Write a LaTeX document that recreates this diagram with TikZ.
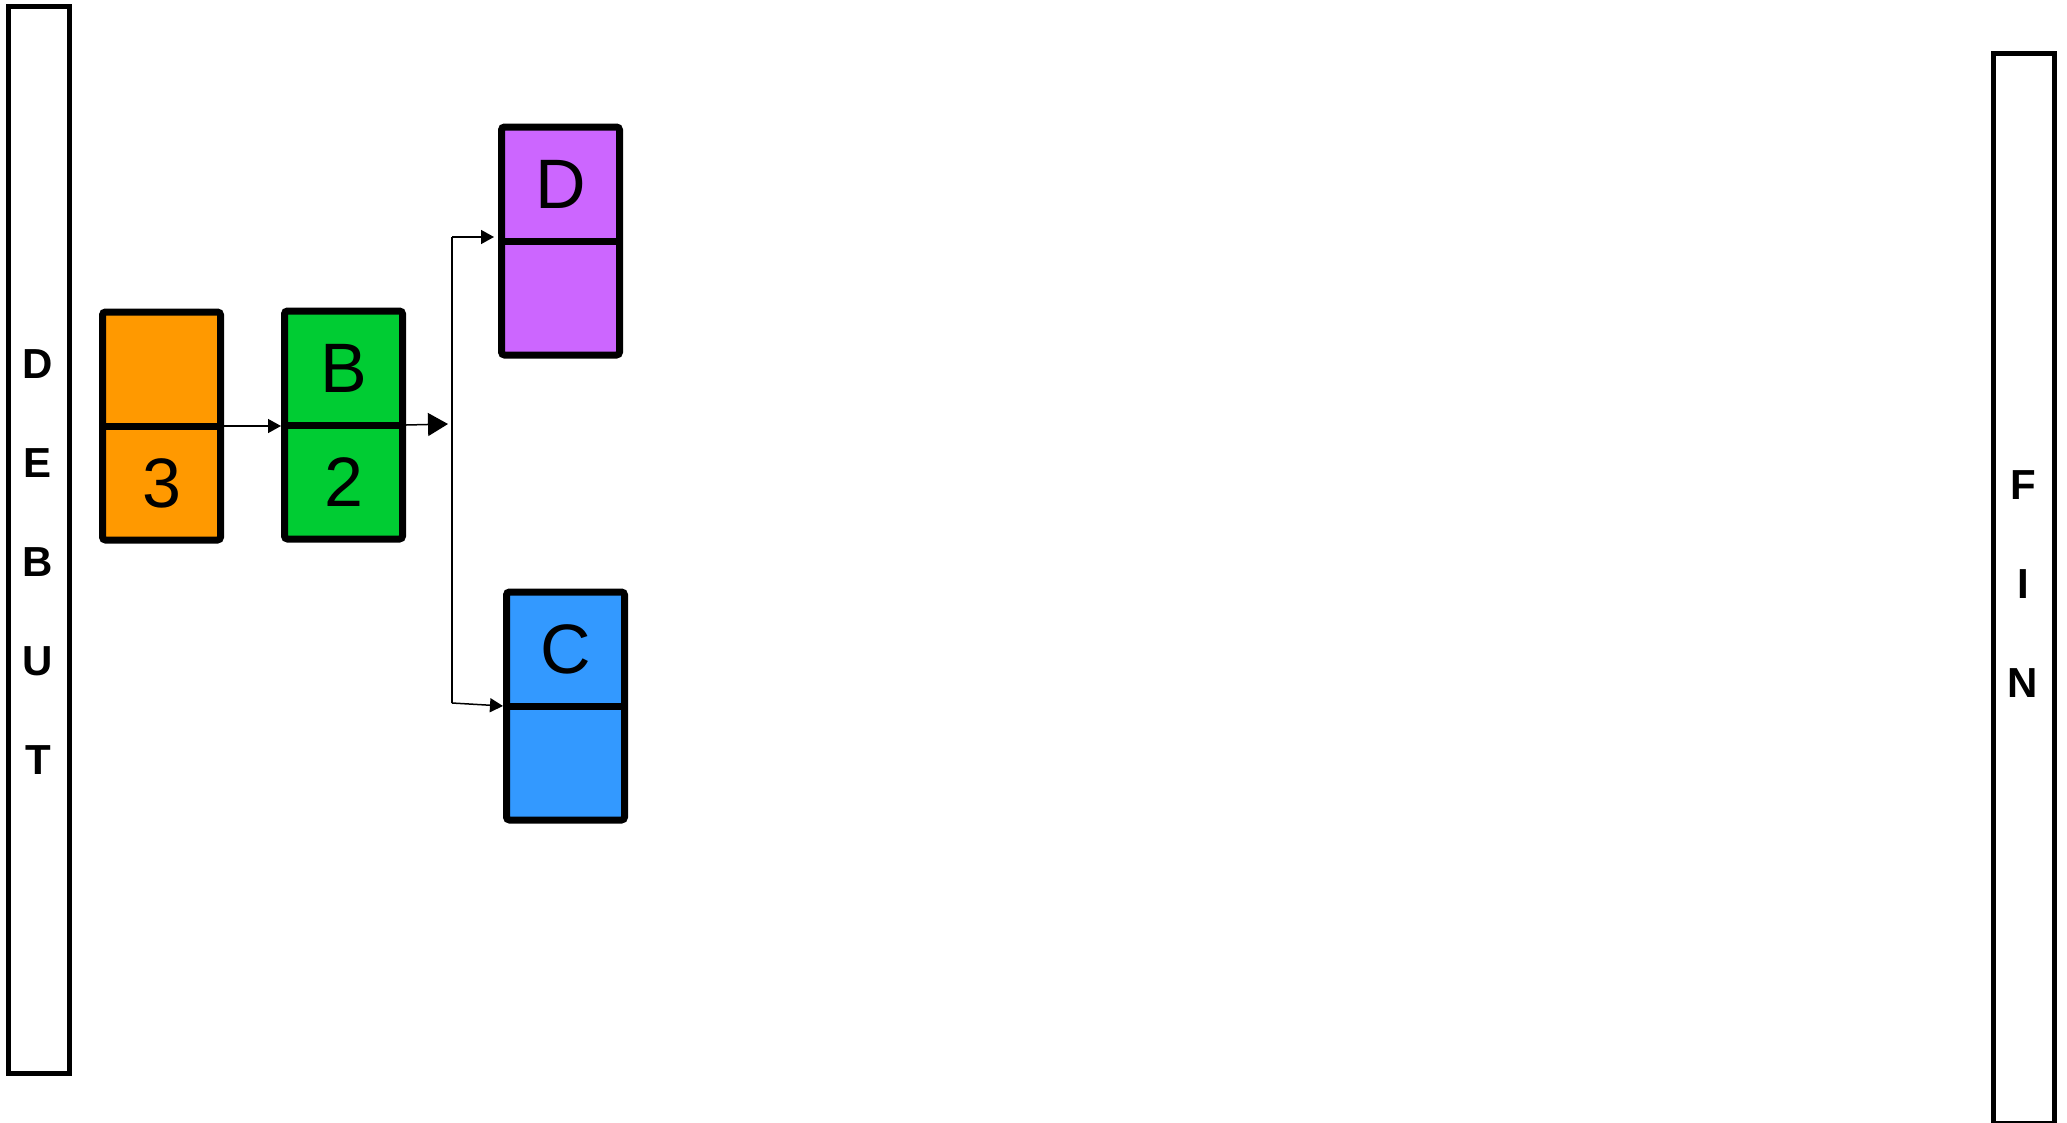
\documentclass[tikz,border=0pt]{standalone}
\usepackage{fontspec}
\setmainfont{Liberation Sans}
\usetikzlibrary{arrows.meta,calc}
\definecolor{corange}{HTML}{FF9900}
\definecolor{cgreen}{HTML}{00CC33}
\definecolor{cpurple}{HTML}{CC66FF}
\definecolor{cblue}{HTML}{3399FF}
\begin{document}
\begin{tikzpicture}[x=1pt,y=-1pt,
  bar/.style={draw=black,line width=5pt,fill=white,minimum width=61pt,inner sep=0pt},
  cell/.style={draw=black,line width=7pt,rounded corners=3pt,minimum width=118pt,minimum height=228pt,inner sep=0pt},
  lbl/.style={font=\fontsize{70}{70}\selectfont,inner sep=0pt},
  barlbl/.style={font=\fontsize{42}{99}\selectfont\bfseries,align=center,inner sep=0pt},
  conn/.style={line width=1.5pt},
  tipS/.style={-{Triangle[length=13pt,width=14pt]}},
  tipL/.style={-{Triangle[length=20pt,width=23pt]}}]
\useasboundingbox (0,0) rectangle (2067,1122);
% bars
\node[bar,minimum height=1067pt] (debut) at (39,540) {};
\node[barlbl] (debuttxt) at (38,562) {D\\E\\B\\U\\T};
\node[bar,minimum height=1070pt] (fin) at (2023.5,588.5) {};
\node[barlbl] (fintxt) at (2023,584) {F\\I\\N};
% boxes
\node[cell,fill=corange] (A) at (161.5,426) {};
\node[cell,fill=cgreen] (B) at (343.5,425) {};
\node[cell,fill=cpurple] (D) at (560.5,241) {};
\node[cell,fill=cblue] (C) at (565.5,706) {};
\foreach \n in {A,B,D,C}{\draw[line width=7pt] (\n.west) -- (\n.east);}
% labels
\node[lbl] (Alow) at ($(A.center)+(0,57)$) {3};
\node[lbl] (Bup) at ($(B.center)+(0,-57)$) {B};
\node[lbl] (Blow) at ($(B.center)+(0,57)$) {2};
\node[lbl] (Dup) at ($(D.center)+(0,-57)$) {D};
\node[lbl] (Cup) at ($(C.center)+(0,-57)$) {C};
% connectors
\coordinate (split) at (448,424);
\coordinate (vtop) at (452,237);
\coordinate (vbot) at (452,703);
\draw[conn,tipS] (A.east) -- (A.east -| B.west);
\draw[conn,tipL] (B.east) -- (split);
\draw[conn] (vtop) -- (vbot);
\draw[conn,tipS,shorten >=4pt] (vtop) -- (vtop -| D.west);
\draw[conn,tipS] (vbot) -- (C.west);
\end{tikzpicture}
\end{document}
